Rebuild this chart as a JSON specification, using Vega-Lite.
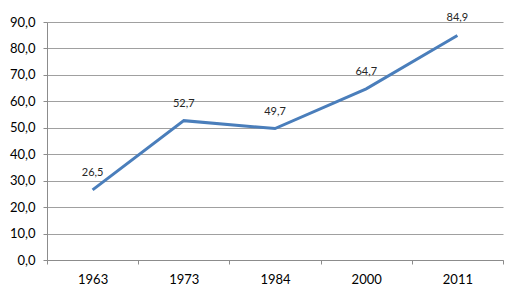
{
  "$schema": "https://vega.github.io/schema/vega-lite/v6.json",
  "width": 456,
  "height": 238,
  "autosize": {"type": "none"},
  "padding": {"left": 47, "top": 22, "right": 20, "bottom": 38},
  "background": "white",
  "data": {"values": [
    {"year": "1963", "value": 26.5},
    {"year": "1973", "value": 52.7},
    {"year": "1984", "value": 49.7},
    {"year": "2000", "value": 64.7},
    {"year": "2011", "value": 84.9}
  ]},
  "encoding": {
    "x": {"field": "year", "type": "ordinal", "sort": null, "bandPosition": 0.5,
      "scale": {"type": "band", "paddingInner": 0, "paddingOuter": 0},
      "axis": {"title": null, "labelAngle": 0, "tickBand": "extent", "grid": false,
        "domainColor": "#8c8c8c", "tickColor": "#8c8c8c", "tickSize": 4,
        "labelPadding": 9, "labelFontSize": 13, "labelColor": "#000", "labelFont": "Lato"}},
    "y": {"field": "value", "type": "quantitative",
      "scale": {"domain": [0, 90], "nice": false},
      "axis": {"title": null, "values": [0,10,20,30,40,50,60,70,80,90], "format": ".1f",
        "domainColor": "#8c8c8c", "tickColor": "#8c8c8c", "tickSize": 4, "gridColor": "#a0a0a0",
        "labelPadding": 8, "labelFontSize": 13, "labelColor": "#000", "labelFont": "Lato"}}
  },
  "layer": [
    {"mark": {"type": "line", "color": "#4a7ebb", "strokeWidth": 3}},
    {"mark": {"type": "text", "dy": -17, "fontSize": 11, "font": "Lato", "color": "#262626"},
      "encoding": {"text": {"field": "value", "type": "quantitative", "format": ".1f"}}}
  ],
  "config": {
    "view": {"stroke": null},
    "locale": {"number": {"decimal": ",", "thousands": ".", "grouping": [3], "currency": ["", " €"]}}
  }
}
